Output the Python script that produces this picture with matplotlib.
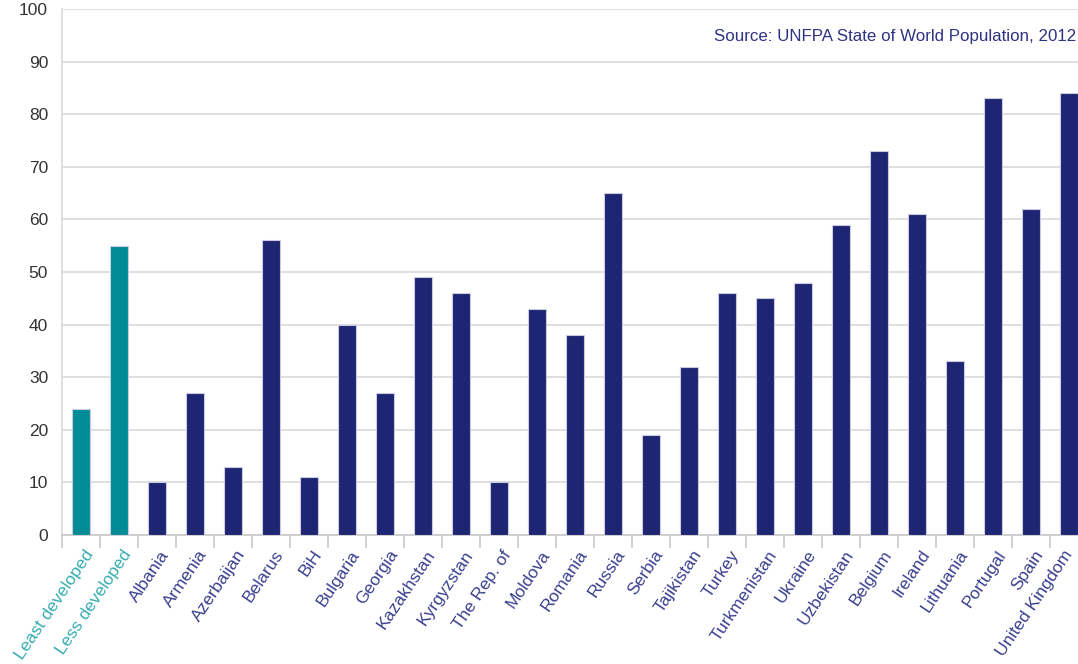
import numpy as np
import matplotlib.pyplot as plt
from matplotlib.transforms import ScaledTranslation

# contraceptive prevalence (%)
groups = ['Least developed', 'Less developed']
group_vals = [24, 55]

countries = ['Albania', 'Armenia', 'Azerbaijan', 'Belarus', 'BiH', 'Bulgaria',
             'Georgia', 'Kazakhstan', 'Kyrgyzstan', 'The Rep. of', 'Moldova',
             'Romania', 'Russia', 'Serbia', 'Tajikistan', 'Turkey',
             'Turkmenistan', 'Ukraine', 'Uzbekistan', 'Belgium', 'Ireland',
             'Lithuania', 'Portugal', 'Spain', 'United Kingdom']
country_vals = [10, 27, 13, 56, 11, 40, 27, 49, 46, 10, 43, 38, 65, 19, 32,
                46, 45, 48, 59, 73, 61, 33, 83, 62, 84]

yticks = [0, 10, 20, 30, 40, 50, 60, 70, 80, 90, 100]
source = 'Source: UNFPA State of World Population, 2012'

teal = '#008C96'
navy = '#1E2572'
teal_txt = '#36ACB2'
navy_txt = '#3A3F8E'

labels = groups + countries
vals = group_vals + country_vals
colors = [teal] * len(groups) + [navy] * len(countries)
txtcolors = [teal_txt] * len(groups) + [navy_txt] * len(countries)
x = np.arange(len(labels))

W, H = 1078, 664
fig = plt.figure(figsize=(W / 100, H / 100), dpi=100)
# axes runs a bit past the right edge, like the cropped original
ax = fig.add_axes([62 / W, (H - 535) / H, (38 * len(labels)) / W, 526 / H])

ax.bar(x, vals, width=0.48, color=colors, edgecolor='#C9CBE0', linewidth=0.8, zorder=3)

ax.set_xlim(-0.5, len(labels) - 0.5)
ax.set_ylim(0, 100)
ax.set_yticks(yticks)
ax.set_yticklabels([str(t) for t in yticks], fontsize=12.5, color='#333333',
                   family='Liberation Sans')
ax.yaxis.grid(True, color='#D9D9D9', linewidth=1.2, zorder=0)
ax.tick_params(axis='y', length=0, pad=10)

for s in ['top', 'right']:
    ax.spines[s].set_visible(False)
ax.spines['left'].set_color('#D9D9D9')
ax.spines['left'].set_linewidth(1.2)
ax.spines['bottom'].set_color('#C8C8C8')
ax.spines['bottom'].set_linewidth(1.2)

# tick marks between categories, labels at centers
ax.set_xticks(x - 0.5, minor=True)
ax.tick_params(axis='x', which='minor', length=9, width=1.2, color='#C8C8C8')
ax.set_xticks(x)
ax.set_xticklabels(labels, fontsize=12.6, family='Liberation Sans',
                   rotation=56, ha='right', va='top', rotation_mode='anchor')
ax.tick_params(axis='x', which='major', length=0, pad=9)
ticklabs = ax.get_xticklabels()
for i, (lab, c) in enumerate(zip(ticklabs, txtcolors)):
    dx = 3 if i < len(ticklabs) - 1 else -6  # keep the last one inside the figure
    lab.set_color(c)
    lab.set_transform(lab.get_transform() + ScaledTranslation(dx / 100, 0, fig.dpi_scale_trans))

fig.text(1076 / W, 1 - 36 / H, source, ha='right', va='center',
         fontsize=12.2, color='#2E3283', family='Liberation Sans')

fig.savefig('out.png', dpi=100)
